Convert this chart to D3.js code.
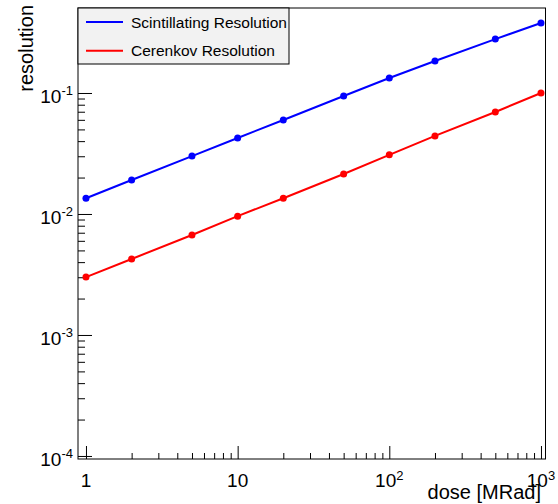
<!DOCTYPE html>
<html>
<head>
<meta charset="utf-8">
<script src="https://cdn.jsdelivr.net/npm/d3@7"></script>
<style>
  body { margin: 0; background: #fff; }
  text { font-family: "Liberation Sans", Arial, Helvetica, sans-serif; }
</style>
</head>
<body>
<div id="chart"></div>
<script>
(function() {
var width = 558,
  height = 504;

// data
var dose = [1, 2, 5, 10, 20, 50, 100, 200, 500, 1000];
var scintRes = [0.0135, 0.0191, 0.0301, 0.0425, 0.0598, 0.0944, 0.133, 0.184, 0.279, 0.379];
var cerenRes = [0.00301, 0.00425, 0.0067, 0.0096, 0.0135, 0.0214, 0.0308, 0.0442, 0.0697, 0.100];
var seriesNames = ["Scintillating Resolution", "Cerenkov Resolution"];
var seriesColors = ["#0000ff", "#ff0000"];
var xMajor = [1, 10, 100, 1000];
var yMajor = [1e-4, 1e-3, 1e-2, 1e-1];

var frame = {left: 78, right: 545.5, top: 8, bottom: 459};

var x = d3.scaleLog().domain([0.886, 1071]).range([frame.left, frame.right]);
var y = d3.scaleLog().domain([9.44e-5, 0.504]).range([frame.bottom, frame.top]);

var svg = d3.select("#chart")
  .append("svg")
  .attr("width", width)
  .attr("height", height)

// minor tick values
var xMinor = [];
xMajor.forEach(function(m) {
  for (var k = 2; k <= 9; k++) if (m * k <= 1071) xMinor.push(m * k);
})
var yMinor = [];
[1e-5, 1e-4, 1e-3, 1e-2, 1e-1].forEach(function(m) {
  for (var k = 2; k <= 9; k++) {
    var v = m * k;
    if (v >= 9.44e-5 && v <= 0.504) yMinor.push(v);
  }
})

function styleAxis(g) {
  g.selectAll(".domain").remove();
  g.selectAll(".tick text").remove();
  g.selectAll(".tick line").attr("stroke", "#000").attr("stroke-width", 1);
}

// x ticks (pointing up into the frame)
svg.append("g")
  .attr("transform", "translate(0," + frame.bottom + ")")
  .call(d3.axisBottom(x).tickValues(xMinor).tickSize(-6))
  .call(styleAxis)
svg.append("g")
  .attr("transform", "translate(0," + frame.bottom + ")")
  .call(d3.axisBottom(x).tickValues(xMajor).tickSize(-13))
  .call(styleAxis)

// y ticks (pointing right into the frame)
svg.append("g")
  .attr("transform", "translate(" + frame.left + ",0)")
  .call(d3.axisLeft(y).tickValues(yMinor).tickSize(-7))
  .call(styleAxis)
svg.append("g")
  .attr("transform", "translate(" + frame.left + ",0)")
  .call(d3.axisLeft(y).tickValues(yMajor).tickSize(-14))
  .call(styleAxis)

// frame
svg.append("rect")
  .attr("x", frame.left)
  .attr("y", frame.top)
  .attr("width", frame.right - frame.left)
  .attr("height", frame.bottom - frame.top)
  .attr("fill", "none")
  .attr("stroke", "#000")
  .attr("stroke-width", 1)

// x tick labels
var xLab = svg.selectAll(".xlab")
  .data(xMajor)
  .enter().append("text")
  .attr("class", "xlab")
  .attr("x", function(d) { return x(d); })
  .attr("y", 487)
  .attr("text-anchor", "middle")
  .attr("font-size", 19)
xLab.each(function(d) {
  var e = Math.round(Math.log10(d));
  var t = d3.select(this);
  if (e === 0) { t.text("1"); }
  else if (e === 1) { t.text("10"); }
  else {
    t.append("tspan").text("10");
    t.append("tspan").attr("dy", -7).attr("font-size", 13).text(e);
  }
})

// y tick labels
var yLab = svg.selectAll(".ylab")
  .data(yMajor)
  .enter().append("text")
  .attr("class", "ylab")
  .attr("x", 73)
  .attr("y", function(d) { return y(d) + 10; })
  .attr("text-anchor", "end")
  .attr("font-size", 19)
yLab.each(function(d) {
  var e = Math.round(Math.log10(d));
  var t = d3.select(this);
  t.append("tspan").text("10");
  t.append("tspan").attr("dy", -8).attr("font-size", 13).text(e);
})

// axis titles
svg.append("text")
  .attr("x", 541)
  .attr("y", 499)
  .attr("text-anchor", "end")
  .attr("font-size", 20)
  .text("dose [MRad]")

svg.append("text")
  .attr("transform", "translate(33,5) rotate(-90)")
  .attr("text-anchor", "end")
  .attr("font-size", 20)
  .text("resolution")

// series
var series = [scintRes, cerenRes].map(function(vals, i) {
  return {
    name: seriesNames[i],
    color: seriesColors[i],
    points: dose.map(function(dv, j) { return {x: dv, y: vals[j]}; })
  };
})

var line = d3.line()
  .x(function(d) { return x(d.x); })
  .y(function(d) { return y(d.y); })

series.forEach(function(s) {
  svg.append("path")
    .datum(s.points)
    .attr("d", line)
    .attr("fill", "none")
    .attr("stroke", s.color)
    .attr("stroke-width", 2)

  svg.selectAll(null)
    .data(s.points)
    .enter().append("circle")
    .attr("cx", function(d) { return x(d.x); })
    .attr("cy", function(d) { return y(d.y); })
    .attr("r", 3.5)
    .attr("fill", s.color)
})

// legend
var legend = svg.append("g")
legend.append("rect")
  .attr("x", 78)
  .attr("y", 8)
  .attr("width", 211)
  .attr("height", 56)
  .attr("fill", "#f2f2f2")
  .attr("stroke", "#000")
  .attr("stroke-width", 1)

var entry = legend.selectAll(".entry")
  .data(series)
  .enter().append("g")
  .attr("class", "entry")
  .attr("transform", function(d, i) { return "translate(0," + (22 + i * 28.7) + ")"; })

entry.append("line")
  .attr("x1", 86)
  .attr("x2", 123)
  .attr("stroke", function(d) { return d.color; })
  .attr("stroke-width", 2)

entry.append("text")
  .attr("x", 131)
  .attr("y", 5.5)
  .attr("font-size", 15.5)
  .text(function(d) { return d.name; })
})();
</script>
</body>
</html>
